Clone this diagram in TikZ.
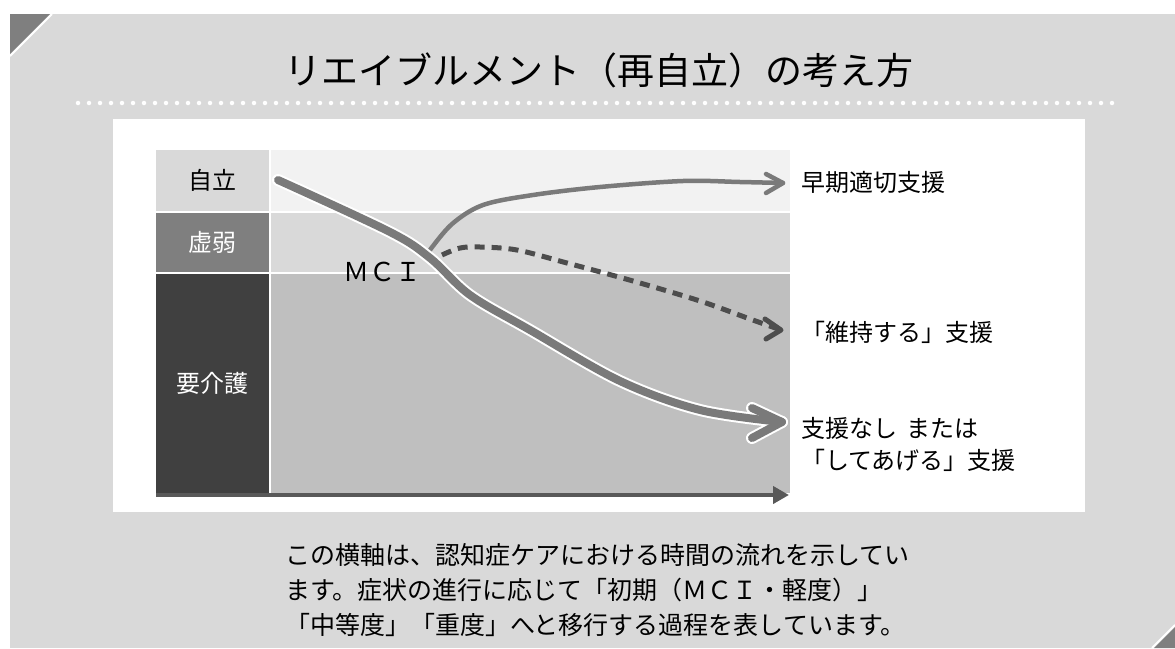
\documentclass[tikz,border=0pt]{standalone}
\usepackage{fontspec}
\setmainfont{Noto Sans CJK JP}
\usetikzlibrary{arrows.meta}
\definecolor{panel}{HTML}{D9D9D9}
\definecolor{cornergray}{HTML}{7F7F7F}
\definecolor{bandA}{HTML}{F2F2F2}
\definecolor{bandB}{HTML}{D9D9D9}
\definecolor{bandC}{HTML}{BFBFBF}
\definecolor{cellA}{HTML}{D9D9D9}
\definecolor{cellB}{HTML}{7F7F7F}
\definecolor{cellC}{HTML}{404040}
\definecolor{curvegray}{HTML}{7A7A7A}
\definecolor{dashgray}{HTML}{4D4D4D}
\definecolor{axisgray}{HTML}{595959}
\tikzset{
  cell/.style={inner sep=0pt, minimum width=113pt, font=\fontsize{24}{28}\selectfont},
  sidelabel/.style={anchor=west, inner sep=0pt, align=left, font=\fontsize{24}{32}\selectfont},
  bodytext/.style={anchor=west, inner sep=0pt, font=\fontsize{25}{30}\selectfont},
  mainouter/.style={white, line width=12pt, line cap=round, line join=round},
  maininner/.style={curvegray, line width=8pt, line cap=round, line join=round},
  upper/.style={curvegray, line width=4.5pt, line cap=round, line join=round},
  dashline/.style={dashgray, line width=5pt, dash pattern=on 10pt off 7pt},
  dashhead/.style={dashgray, line width=5pt, line cap=round, line join=round},
}
\begin{document}
\begin{tikzpicture}[x=1pt,y=-1pt]
\useasboundingbox (0,0) rectangle (1175,648);
\fill[white] (0,0) rectangle (1175,648);
\fill[panel] (10,14) rectangle (1175,648);
% corners
\fill[cornergray] (10,14) -- (50,14) -- (10,54) -- cycle;
\draw[white, line width=2pt] (52,14) -- (10,56);
\fill[cornergray] (1175,627) -- (1175,648) -- (1154,648) -- cycle;
\draw[white, line width=2pt] (1175,625) -- (1152,648);
% title
\node[font=\fontsize{37}{42}\selectfont, inner sep=0pt] (title) at (599,70) {リエイブルメント（再自立）の考え方};
\draw[white, line width=4.5pt, line cap=round, dash pattern=on 0pt off 11pt] (78,103) -- (1122,103);
% white chart box
\fill[white] (113,119) rectangle (1085,512);
% bands
\fill[bandA] (271,150) rectangle (790,211);
\fill[bandB] (271,213) rectangle (790,272);
\fill[bandC] (271,274) rectangle (790,493);
% left cells
\node[cell, fill=cellA, minimum height=61pt, text=black] (ziritsu) at (212.5,180.5) {自立};
\node[cell, fill=cellB, minimum height=59pt, text=white] (kyojaku) at (212.5,242.5) {虚弱};
\node[cell, fill=cellC, minimum height=219pt, text=white] (yokaigo) at (212.5,383.5) {要介護};
% axis
\coordinate (axS) at (156,495);
\coordinate (axE) at (789,495);
\draw[axisgray, line width=4pt, -{Triangle[length=16pt,width=17pt]}] (axS) -- (axE);
% MCI
\node[font=\fontsize{26}{30}\selectfont, inner sep=0pt] (mci) at (382,272) {ＭＣＩ};
% upper curve
\coordinate (upS) at (430,250);
\coordinate (upE) at (783,183);
\draw[upper] plot[smooth, tension=0.55] coordinates {(upS) (452,224) (483,205) (533,195) (600,187) (683,181) (740,182) (upE)};
\draw[upper] (766,174) -- (upE) -- (766,193);
% dashed curve
\coordinate (dsS) at (442,255);
\coordinate (dsE) at (781,330);
\draw[dashline] plot[smooth, tension=0.55] coordinates {(dsS) (460,248) (480,247) (517,250) (567,263) (633,281) (700,301) (750,319) (dsE)};
\draw[dashhead] (765,319) -- (dsE) -- (766,339);
% main curve
\coordinate (mnS) at (278,180);
\coordinate (mnE) at (782,422);
\draw[mainouter] plot[smooth, tension=0.55] coordinates {(mnS) (390,232) (430,258) (470,295) (530,330) (620,381) (700,410) (mnE)};
\draw[mainouter] (752,408) -- (mnE) -- (752,438);
\draw[maininner] plot[smooth, tension=0.55] coordinates {(mnS) (390,232) (430,258) (470,295) (530,330) (620,381) (700,410) (mnE)};
\draw[maininner] (752,408) -- (mnE) -- (752,438);
% right labels
\node[sidelabel] (early) at (801,182) {早期適切支援};
\node[sidelabel] (keep) at (801,332) {「維持する」支援};
\node[sidelabel] (none) at (801,444) {支援なし\hspace{9pt}または\\「してあげる」支援};
% body text
\node[bodytext] (t1) at (285,555) {この横軸は、認知症ケアにおける時間の流れを示してい};
\node[bodytext] (t2) at (285,590) {ます。症状の進行に応じて「初期（ＭＣＩ・軽度）」};
\node[bodytext] (t3) at (285,625) {「中等度」「重度」へと移行する過程を表しています。};
\end{tikzpicture}
\end{document}
